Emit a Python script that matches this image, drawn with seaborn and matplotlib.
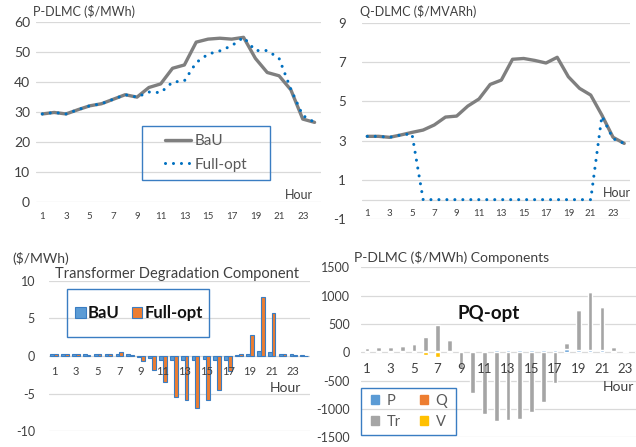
import numpy as np
import pandas as pd
import matplotlib
matplotlib.use("Agg")
import matplotlib.pyplot as plt
import seaborn as sns
from matplotlib.lines import Line2D
from matplotlib.patches import Patch, Rectangle

# -----------------------------------
# Data
# -----------------------------------
hours = list(range(1, 25))
hour_ticks = list(range(1, 24, 2))

p_bau = [29.3, 29.8, 29.3, 30.7, 32.0, 32.7, 34.2, 35.7, 34.9, 38.1, 39.3, 44.5,
         45.6, 53.2, 54.2, 54.5, 54.2, 54.8, 47.8, 43.1, 42.0, 37.3, 27.6, 26.5]
p_full = [29.3, 29.8, 29.3, 30.7, 32.0, 32.7, 34.2, 35.7, 34.9, 36.6, 36.4, 39.9,
          40.3, 46.4, 49.2, 50.3, 52.0, 54.8, 50.4, 50.4, 47.8, 37.5, 28.8, 26.5]

q_bau = [3.22, 3.22, 3.17, 3.29, 3.42, 3.54, 3.8, 4.2, 4.25, 4.76, 5.12, 5.86,
         6.08, 7.14, 7.18, 7.08, 6.95, 7.24, 6.25, 5.66, 5.32, 4.3, 3.17, 2.86]
q_full = [3.22, 3.22, 3.17, 3.29, 3.35, 0, 0, 0, 0, 0, 0, 0,
          0, 0, 0, 0, 0, 0, 0, 0, 0, 4.25, 3.1, 2.86]

tr_bau = [0.2, 0.2, 0.2, 0.2, 0.2, 0.2, 0.2, 0.2, -0.1, -0.3, -0.5, -0.5,
          -0.5, -0.5, -0.4, -0.5, -0.5, 0.1, 0.3, 0.6, 0.5, 0.3, 0.2, 0.1]
tr_full = [0.2, 0.2, 0.2, 0.15, 0.2, 0.3, 0.5, 0.1, -0.6, -1.8, -3.5, -5.5,
           -5.8, -6.9, -5.8, -4.5, -2.0, 0.3, 2.8, 7.8, 5.7, 0.3, 0.1, 0.0]

comp_p = [15, 15, 15, 15, 15, 15, 15, 25, 30, 30, 30, 35,
          35, 40, 40, 40, 40, 55, 35, 35, 35, 30, 20, 10]
comp_q = [1] * 24
comp_tr = [65, 75, 85, 100, 125, 255, 465, 195, -270, -710, -1080, -1210,
           -1200, -1170, -1060, -880, -550, 110, 710, 1035, 770, 65, 0, 0]
comp_v = [0, 0, 0, 0, 0, -50, -90, 0, 0, 0, 0, 0,
          0, 0, 0, 0, 0, 0, 0, 0, 0, 0, 0, 0]

# -----------------------------------
# Style
# -----------------------------------
GRAY = "#7f7f7f"
DOT_BLUE = "#0070C0"
BAR_BLUE = "#5B9BD5"
BAR_ORANGE = "#ED7D31"
BAR_GRAY = "#A5A5A5"
BAR_YELLOW = "#FFC000"
EDGE_BLUE = "#3A7DC2"
GRID = "#d9d9d9"
TXT = "#404040"
LEG_TXT = "#595959"

W, H = 636, 447
sns.set_theme(style="white")
plt.rcParams["font.family"] = ["Lato", "DejaVu Sans"]

fig = plt.figure(figsize=(W / 100, H / 100), dpi=100)


def px_axes(l, t, r, b):
    return fig.add_axes([l / W, 1 - b / H, (r - l) / W, (b - t) / H])


def px_text(x, y, s, **kw):
    fig.text(x / W, 1 - y / H, s, va="center", color=kw.pop("color", TXT), **kw)


def px_frame(l, t, r, b):
    fig.add_artist(Rectangle((l / W, 1 - b / H), (r - l) / W, (b - t) / H,
                             transform=fig.transFigure, fill=False,
                             edgecolor=EDGE_BLUE, lw=1.0))


def style_axes(ax, yticks, ysize, ypad, xsize, xpad):
    for s in ax.spines.values():
        s.set_visible(False)
    ax.set_axisbelow(False)
    ax.set_yticks(yticks)
    ax.set_yticklabels([str(v) for v in yticks])
    for v in yticks:
        ax.axhline(v, color=GRID, lw=0.9, zorder=0)
    ax.tick_params(axis="y", length=0, pad=ypad, labelsize=ysize, labelcolor=TXT)
    ax.tick_params(axis="x", length=0, pad=xpad, labelsize=xsize, labelcolor=TXT)
    ax.set_xlabel("")
    ax.set_ylabel("")
    ax.grid(False)


# -----------------------------------
# Top-left: P-DLMC
# -----------------------------------
ax1 = px_axes(36.4, 21.7, 320.5, 202)
sns.lineplot(x=hours, y=p_bau, ax=ax1, color=GRAY, lw=2.4)
sns.lineplot(x=hours, y=p_full, ax=ax1, color=DOT_BLUE, lw=2.2,
             linestyle=(0, (0.01, 2.6)), dash_capstyle="round")
ax1.set_xlim(0.5, 24.5)
ax1.set_ylim(0, 60)
ax1.set_xticks(hour_ticks)
style_axes(ax1, list(range(0, 61, 10)), 10, 4.6, 7, 7)
px_text(33, 11.5, "P-DLMC ($/MWh)", fontsize=9)
px_text(285, 195, "Hour", fontsize=9)

px_frame(142, 126, 270, 180)
fig.legend(handles=[Line2D([], [], color=GRAY, lw=2.4),
                    Line2D([], [], color=DOT_BLUE, lw=2.2, linestyle=(0, (0.01, 2.6)),
                           dash_capstyle="round")],
           labels=["BaU", "Full-opt"], loc="center",
           bbox_to_anchor=(206 / W, 1 - 153 / H), frameon=False, fontsize=11,
           labelcolor=LEG_TXT, handlelength=1.7, handletextpad=0.25, labelspacing=0.6)

# -----------------------------------
# Top-right: Q-DLMC
# -----------------------------------
ax2 = px_axes(361.7, 22.7, 629.8, 219.3)
sns.lineplot(x=hours, y=q_bau, ax=ax2, color=GRAY, lw=2.4)
sns.lineplot(x=hours, y=q_full, ax=ax2, color=DOT_BLUE, lw=2.2,
             linestyle=(0, (0.01, 2.6)), dash_capstyle="round")
ax2.set_xlim(0.5, 24.5)
ax2.set_ylim(-1, 9)
ax2.set_xticks(hour_ticks)
ax2.spines["bottom"].set_position(("data", 0))
style_axes(ax2, [-1, 1, 3, 5, 7, 9], 9.5, 11.3, 7, 7)
ax2.axhline(0, color=GRID, lw=0.9, zorder=0)
px_text(359.7, 11, "Q-DLMC ($/MVARh)", fontsize=9)
px_text(603, 193, "Hour", fontsize=9)

# -----------------------------------
# Bottom-left: transformer degradation
# -----------------------------------
ax3 = px_axes(48.6, 280.7, 309.7, 431.3)
tr_df = pd.DataFrame({
    "hour": hours * 2,
    "value": tr_bau + tr_full,
    "case": ["BaU"] * 24 + ["Full-opt"] * 24,
})
sns.barplot(data=tr_df, x="hour", y="value", hue="case", ax=ax3,
            palette=[BAR_BLUE, BAR_ORANGE], width=0.7, saturation=1,
            edgecolor=EDGE_BLUE, linewidth=0.8, errorbar=None, legend=False,
            zorder=1)
ax3.set_xlim(-0.5, 23.5)
ax3.set_ylim(-10, 10)
ax3.set_xticks([h - 1 for h in hour_ticks])
ax3.set_xticklabels([str(h) for h in hour_ticks])
ax3.spines["bottom"].set_position(("data", 0))
style_axes(ax3, [-10, -5, 0, 5, 10], 9, 9.8, 8, 7.5)
px_text(12.7, 258.3, "($/MWh)", fontsize=10)
px_text(55, 274, "Transformer Degradation Component", fontsize=10.5)
px_text(270, 388, "Hour", fontsize=10)

px_frame(67.3, 289, 209.3, 337.3)
fig.legend(handles=[Patch(facecolor=BAR_BLUE, edgecolor=EDGE_BLUE, lw=0.8),
                    Patch(facecolor=BAR_ORANGE, edgecolor=EDGE_BLUE, lw=0.8)],
           labels=["BaU", "Full-opt"], loc="center", ncol=2,
           bbox_to_anchor=(139 / W, 1 - 313.3 / H), frameon=False,
           prop={"size": 12, "weight": "bold"}, labelcolor="#111111",
           handlelength=0.62, handleheight=0.62, handletextpad=0.15,
           columnspacing=0.7)

# -----------------------------------
# Bottom-right: P-DLMC components (stacked)
# -----------------------------------
ax4 = px_axes(361.1, 267.3, 643, 437.3)
pos_base = np.zeros(24)
neg_base = np.zeros(24)
for vals, color in [(comp_p, BAR_BLUE), (comp_q, BAR_ORANGE),
                    (comp_tr, BAR_GRAY), (comp_v, BAR_YELLOW)]:
    vals = np.array(vals, dtype=float)
    base = np.where(vals >= 0, pos_base, neg_base)
    ax4.bar(hours, vals, bottom=base, width=0.4, color=color, zorder=1)
    pos_base += np.clip(vals, 0, None)
    neg_base += np.clip(vals, None, 0)
ax4.set_xlim(0.5, 24.5)
ax4.set_ylim(-1500, 1500)
ax4.set_xticks(hour_ticks)
ax4.spines["bottom"].set_position(("data", 0))
style_axes(ax4, list(range(-1500, 1501, 500)), 9, 8.2, 9.5, 7.5)
px_text(354, 257.3, "P-DLMC ($/MWh) Components", fontsize=10)
px_text(458, 313.3, "PQ-opt", fontsize=13.5, fontweight="bold", color="#111111")
px_text(603, 387.3, "Hour", fontsize=10)

px_frame(360.7, 388.3, 456, 435)
fig.legend(handles=[Patch(color=BAR_BLUE), Patch(color=BAR_GRAY),
                    Patch(color=BAR_ORANGE), Patch(color=BAR_YELLOW)],
           labels=["P", "Tr", "Q", "V"], loc="center", ncol=2,
           bbox_to_anchor=(409 / W, 1 - 411.3 / H), frameon=False, fontsize=10.5,
           labelcolor=LEG_TXT, handlelength=0.55, handleheight=0.55,
           handletextpad=0.55, columnspacing=1.3, labelspacing=0.45)

fig.savefig("out.png", dpi=100)
